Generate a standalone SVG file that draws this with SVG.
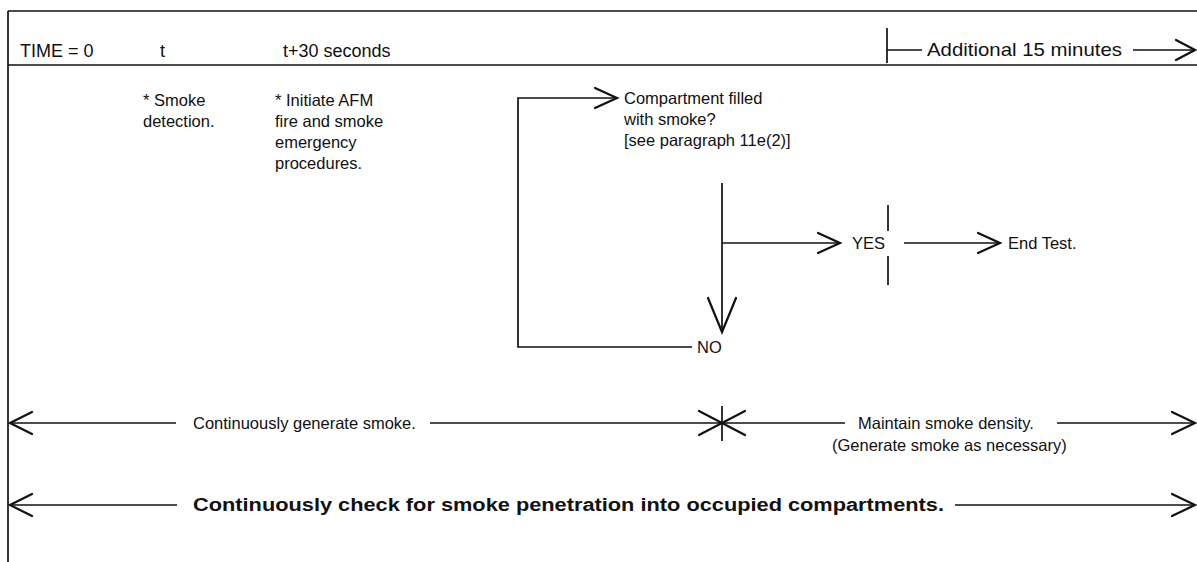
<svg xmlns="http://www.w3.org/2000/svg" width="1197" height="562" viewBox="0 0 1197 562">
<style>
text{font-family:"Liberation Sans",Arial,sans-serif;font-size:16.5px;fill:#111}
.h{font-size:18px}
.b{font-weight:bold;font-size:18px}
.ln{stroke:#111;stroke-width:1.7;fill:none}
.ah{stroke:#111;stroke-width:2.2;fill:none;stroke-linecap:round;stroke-linejoin:miter}
</style>
<rect width="1197" height="562" fill="#fff"/>
<g id="frame">
<line class="ln" x1="8" y1="11" x2="1197" y2="11"/>
<line class="ln" x1="8" y1="11" x2="8" y2="562"/>
<line class="ln" x1="8" y1="65" x2="1197" y2="65"/>
</g>
<g id="header">
<text class="h" x="20" y="57">TIME = 0</text>
<text class="h" x="160" y="57">t</text>
<text class="h" x="283" y="57">t+30 seconds</text>
<text class="h" x="927" y="56" textLength="195" lengthAdjust="spacingAndGlyphs" style="font-size:19px">Additional 15 minutes</text>
</g>
<g id="smoke-detection">
<text x="143" y="106">* Smoke</text>
<text x="143" y="127">detection.</text>
</g>
<g id="initiate-afm">
<text x="275" y="106">* Initiate AFM</text>
<text x="275" y="127">fire and smoke</text>
<text x="275" y="148">emergency</text>
<text x="275" y="169">procedures.</text>
</g>
<g id="question">
<text x="624" y="104">Compartment filled</text>
<text x="624" y="125">with smoke?</text>
<text x="624" y="146">[see paragraph 11e(2)]</text>
</g>
<g id="yes"><text x="852" y="249">YES</text></g>
<g id="no"><text x="697" y="353">NO</text></g>
<g id="end-test"><text x="1008" y="249">End Test.</text></g>
<g id="generate"><text x="193" y="429">Continuously generate smoke.</text></g>
<g id="maintain">
<text x="858" y="429">Maintain smoke density.</text>
<text x="832" y="451">(Generate smoke as necessary)</text>
</g>
<g id="check"><text class="b" x="193" y="511" textLength="751" lengthAdjust="spacingAndGlyphs">Continuously check for smoke penetration into occupied compartments.</text></g>
<g id="connectors">
<line class="ln" x1="887" y1="28" x2="887" y2="63"/>
<line class="ln" x1="887" y1="50" x2="922" y2="50"/>
<line class="ln" x1="1133" y1="50" x2="1194" y2="50"/>
<polyline class="ah" points="1176,40 1195,50 1176,60"/>
<polyline class="ln" points="692,347 518,347 518,98 616,98"/>
<polyline class="ah" points="595,88 617,98 595,108"/>
<line class="ln" x1="722" y1="183" x2="722" y2="332"/>
<polyline class="ah" points="708,298 722,332 736,298"/>
<line class="ln" x1="722" y1="243" x2="840" y2="243"/>
<polyline class="ah" points="818,233 840,243 818,253"/>
<line class="ln" x1="888" y1="205" x2="888" y2="231"/>
<line class="ln" x1="888" y1="256" x2="888" y2="285"/>
<line class="ln" x1="904" y1="243" x2="999" y2="243"/>
<polyline class="ah" points="978,233 1000,243 978,253"/>
<line class="ln" x1="10" y1="423" x2="176" y2="423"/>
<polyline class="ah" points="32,412 10,423 32,434"/>
<line class="ln" x1="430" y1="423" x2="722" y2="423"/>
<polyline class="ah" points="699,411 722,423 699,435"/>
<line class="ln" x1="722" y1="423" x2="845" y2="423"/>
<polyline class="ah" points="745,411 722,423 745,435"/>
<line class="ln" x1="722" y1="406" x2="722" y2="441"/>
<line class="ln" x1="1057" y1="423" x2="1194" y2="423"/>
<polyline class="ah" points="1172,412 1195,423 1172,434"/>
<line class="ln" x1="10" y1="505" x2="177" y2="505"/>
<polyline class="ah" points="32,494 10,505 32,516"/>
<line class="ln" x1="955" y1="505" x2="1194" y2="505"/>
<polyline class="ah" points="1172,494 1195,505 1172,516"/>
</g>
</svg>
